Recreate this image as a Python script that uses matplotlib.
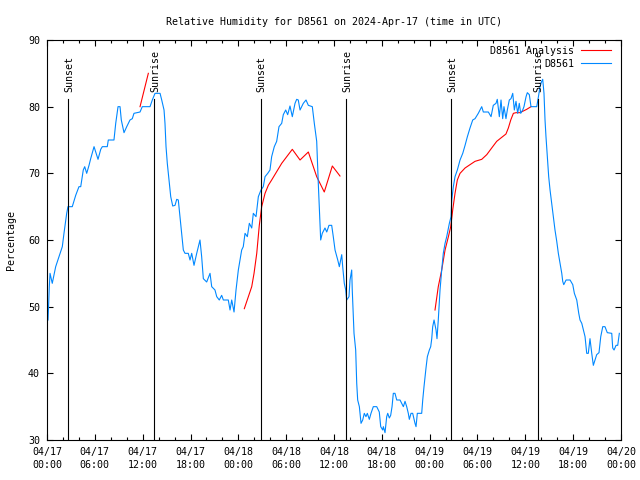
import numpy as np
import pandas as pd
import matplotlib
matplotlib.use('Agg')
import matplotlib.pyplot as plt
from matplotlib.ticker import MultipleLocator

# hours since 2024-04-17 00:00 UTC, relative humidity in %
blue_hours = [0.13, 0.29, 0.38, 0.66, 1.09, 1.51, 1.92, 2.13, 2.47, 2.63, 3.17, 3.60, 4.01, 4.23,
              4.55, 4.73, 4.98, 5.27, 5.48, 5.90, 6.11, 6.40, 6.74, 6.94, 7.56, 7.69, 8.40, 8.62,
              8.91, 9.16, 9.32, 9.66, 10.00, 10.41, 10.70, 10.91, 11.67, 11.95, 12.92, 13.21, 13.55,
              14.18, 14.39, 14.68, 14.80, 14.93, 15.09, 15.22, 15.34, 15.52, 15.77, 16.06, 16.27,
              16.47, 16.68, 16.90, 17.10, 17.31, 17.72, 17.94, 18.15, 18.44, 18.78, 19.19, 19.40,
              19.61, 20.03, 20.45, 20.66, 21.07, 21.29, 21.61, 21.91, 22.12, 22.74, 22.96, 23.17,
              23.46, 23.71, 24.00, 24.42, 24.62, 24.84, 25.13, 25.38, 25.68, 25.88, 26.22, 26.51,
              26.84, 27.13, 27.35, 27.69, 27.97, 28.18, 28.51, 28.81, 29.10, 29.44, 29.64, 29.94,
              30.19, 30.48, 30.77, 31.11, 31.32, 31.52, 31.74, 32.15, 32.49, 32.78, 33.28, 33.53,
              33.83, 34.03, 34.25, 34.33, 34.53, 34.87, 35.09, 35.37, 35.71, 35.91, 36.13, 36.47,
              36.67, 36.97, 37.09, 37.29, 37.47, 37.59, 37.88, 38.01, 38.22, 38.29, 38.42, 38.51,
              38.72, 38.85, 38.97, 39.18, 39.39, 39.60, 39.80, 40.01, 40.18, 40.43, 40.64, 40.93,
              41.36, 41.68, 41.86, 42.11, 42.19, 42.40, 42.61, 42.74, 42.94, 43.11, 43.28, 43.44,
              43.65, 43.87, 44.28, 44.49, 44.70, 44.91, 45.12, 45.32, 45.45, 45.66, 45.87, 46.16,
              46.29, 46.45, 47.00, 47.13, 47.29, 47.54, 47.71, 47.96, 48.13, 48.26, 48.38, 48.55,
              48.80, 48.92, 49.08, 49.30, 49.51, 49.71, 49.93, 50.14, 50.47, 50.68, 50.77, 50.97,
              51.18, 51.47, 51.81, 52.15, 52.44, 52.73, 53.06, 53.40, 53.69, 54.10, 54.53, 54.73,
              55.36, 55.70, 55.98, 56.32, 56.48, 56.74, 56.95, 57.16, 57.32, 57.57, 57.74, 57.99,
              58.20, 58.42, 58.62, 58.83, 59.04, 59.24, 59.42, 59.67, 59.83, 60.09, 60.25, 60.50,
              60.71, 61.43, 61.63, 61.84, 62.05, 62.18, 62.34, 62.47, 62.59, 62.76, 62.93, 63.10,
              63.31, 63.51, 63.72, 63.94, 64.14, 64.35, 64.57, 64.69, 64.82, 65.11, 65.61, 65.95,
              66.15, 66.45, 66.70, 66.86, 67.08, 67.28, 67.49, 67.70, 67.90, 68.11, 68.33, 68.53,
              68.74, 68.95, 69.24, 69.46, 69.71, 69.99, 70.28, 70.84, 70.96, 71.13, 71.38, 71.59,
              71.79]
blue_rh = [48, 53, 55, 53.5, 56, 57.5, 59, 61, 64, 65, 65, 66.7, 68, 68,
           70.5, 71, 70, 71.2, 72.2, 74, 73.2, 72.1, 73.6, 74, 74, 75, 75, 77.5,
           80, 80, 78, 76.1, 77, 78, 78.2, 79, 79.2, 80, 80, 81, 82,
           82, 81, 79.5, 77.5, 74, 71.5, 70, 68.5, 66.5, 65.1, 65.2, 66.1,
           66, 63.5, 61, 58.5, 58, 58, 57, 58, 56.2, 58, 60, 57.5,
           54.2, 53.7, 55, 53, 52.5, 51.5, 51, 51.7, 51, 51, 49.5, 51,
           49.2, 52.5, 55.5, 58.5, 59, 61, 60.5, 62.5, 61.8, 64, 63.5, 66.5,
           67.5, 68, 69.5, 70, 70.5, 72.5, 74, 74.8, 77, 77.5, 78.8, 79.5,
           78.8, 80.1, 78.5, 80.5, 81.1, 81, 79.5, 80.5, 81, 80.2, 80, 77.5,
           74.8, 68.5, 62.5, 60, 61, 61.8, 61.2, 62.2, 62.2, 60.5, 58.5, 57,
           56, 57.8, 56, 53.5, 52.5, 51, 51.5, 54, 55.5, 52.5, 48.5, 46,
           43.5, 38.5, 36, 35, 32.5, 33, 34, 33.5, 34, 33.1, 34, 35,
           35, 34.2, 32, 31.5, 32, 31.1, 33.5, 34, 33.3, 33.7, 35, 37,
           37, 36, 36, 35.5, 35, 35.8, 35, 34, 33.1, 34, 34, 32.5,
           32, 34, 34, 36, 38, 40.8, 42.5, 43.5, 44, 45.2, 47, 48,
           46.5, 45.2, 48, 52.5, 55.5, 58, 59.5, 60.5, 62.5, 63.5, 66, 68,
           69.5, 70.5, 72, 73, 74.2, 75.5, 76.8, 78, 78.2, 79, 80, 79.2,
           79.2, 78.5, 80.2, 80.5, 81.1, 78.5, 81, 78.2, 80, 78.2, 79.5, 81,
           81.2, 82, 79.5, 80.8, 79, 80.5, 79, 79.5, 80, 81.5, 82.1, 81.8,
           80, 80, 81.4, 83, 83.8, 84.1, 82, 78, 75.5, 72.5, 69.5, 67.5,
           65.5, 63.5, 61.5, 59.8, 58, 56.5, 55, 53.8, 53.3, 54, 54, 53.3,
           52, 51, 49, 48, 47.5, 46.5, 45.5, 43, 43, 45.2, 43, 41.2,
           42, 42.8, 43.1, 45.5, 47, 47, 46.1, 46, 43.8, 43.5, 44.2, 44.2,
           46]

# analysis series, NaN marks a gap between runs
red_hours = [11.67, 12.71, np.nan,
             24.75, 25.68, 25.97, 26.31, 26.63, 26.93, 27.35, 27.76, 28.18, 29.44, 30.77, 31.74,
             32.78, 33.83, 34.78, 35.79, 36.75, np.nan,
             48.67, 49.08, 49.51, 49.93, 50.35, 50.64, 50.89, 51.18, 51.47, 51.81, 52.44, 53.06,
             53.69, 54.53, 55.16, 55.78, 56.41, 57.04, 57.57, 57.87, 58.17, 58.50, 58.83, 59.33,
             59.83, 60.17, 60.71]
red_rh = [80, 85, np.nan,
          49.7, 53, 55, 58, 62.2, 65, 67, 68.2, 69, 71.5, 73.6, 72,
          73.2, 69.5, 67.2, 71.1, 69.6, np.nan,
          49.5, 53, 55.5, 58.5, 60.5, 62, 64.5, 67, 69, 70, 70.8, 71.3,
          71.8, 72.1, 72.8, 73.8, 74.8, 75.4, 75.9, 76.8, 78, 79, 79.1, 79.1,
          79.4, 79.6, 80]

sun_hours = [2.68, 13.46, 26.81, 37.55, 50.72, 61.55]
sun_labels = ['Sunset', 'Sunrise', 'Sunset', 'Sunrise', 'Sunset', 'Sunrise']
sun_line_top = 81.1

tick_hours = list(range(0, 73, 6))
start = pd.Timestamp('2024-04-17 00:00')
tick_labels = [(start + pd.Timedelta(hours=h)).strftime('%m/%d\n%H:%M') for h in tick_hours]

plt.rcParams['font.family'] = ['DejaVu Sans Mono']
fs = 7.2

fig = plt.figure(figsize=(6.4, 4.8), dpi=100)
ax = fig.add_axes([47/640, 40/480, 574/640, 400/480])

ax.plot(red_hours, red_rh, color='#ff0000', lw=0.8, label='D8561 Analysis')
ax.plot(blue_hours, blue_rh, color='#0088ff', lw=0.8, label='D8561')

# sunrise / sunset markers
for h, lab in zip(sun_hours, sun_labels):
    ax.plot([h, h], [30, sun_line_top], color='black', lw=0.8)
    ax.text(h + 0.1, sun_line_top + 1.1, lab, rotation=90, ha='center', va='bottom', fontsize=fs)

ax.set_xlim(0, 72)
ax.set_ylim(30, 90)
ax.set_xticks(tick_hours)
ax.set_xticklabels(tick_labels, linespacing=1.35)
ax.xaxis.set_minor_locator(MultipleLocator(2))
ax.yaxis.set_major_locator(MultipleLocator(10))

ax.tick_params(which='both', direction='in', top=True, right=True, labelsize=fs, width=0.8)
ax.tick_params(which='major', length=4.5)
ax.tick_params(which='minor', length=2.5)
ax.tick_params(axis='x', pad=5)
ax.tick_params(axis='y', pad=5)
for s in ax.spines.values():
    s.set_linewidth(0.8)

ax.set_title('Relative Humidity for D8561 on 2024-Apr-17 (time in UTC)', fontsize=fs, pad=11)
fig.text(11/640, 0.5, 'Percentage', rotation=90, ha='center', va='center', fontsize=fs)

ax.legend(loc='upper right', bbox_to_anchor=(0.993, 1.0), frameon=False, markerfirst=False,
          fontsize=fs, handlelength=3.0, handletextpad=0.7, labelspacing=0.3,
          borderaxespad=0.3, borderpad=0.3)

fig.savefig('out.png', dpi=100)
